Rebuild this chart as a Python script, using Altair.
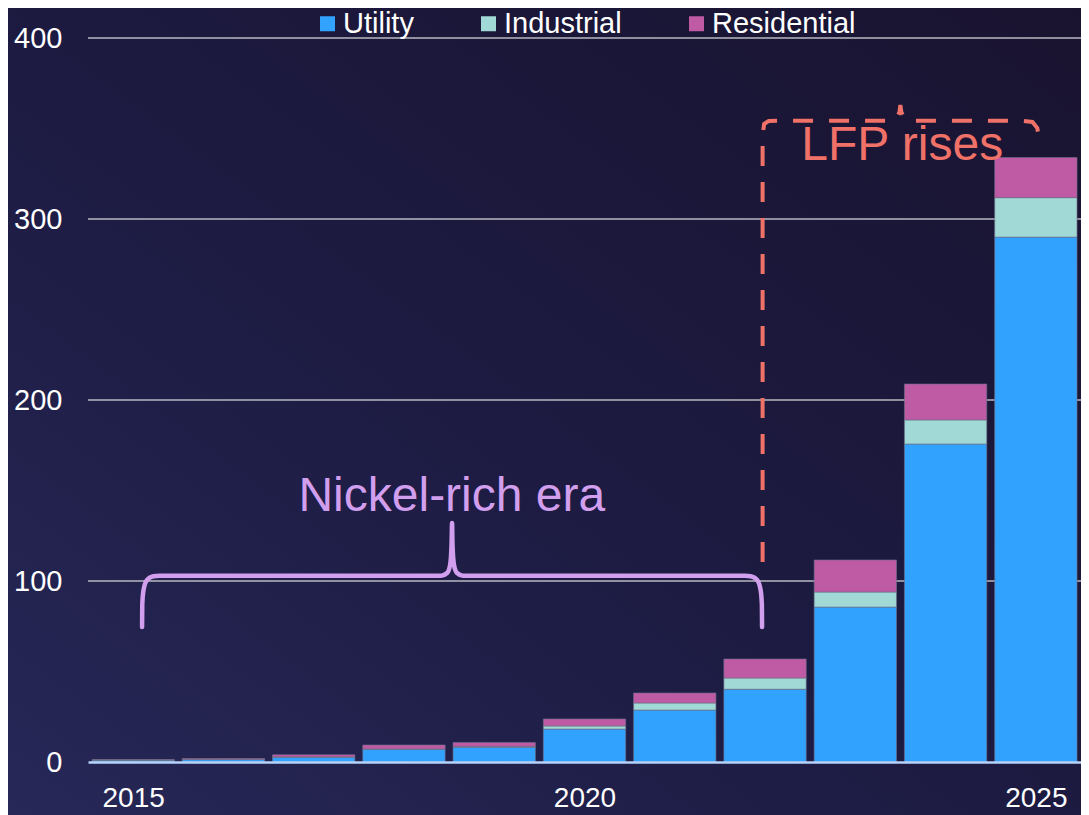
import altair as alt
import pandas as pd

# ---------------- data ----------------
years = list(range(2015, 2026))
utility = [1.0, 1.3, 2.6, 7.0, 8.1, 18.2, 28.7, 40.2, 85.6, 175.7, 290.0]
industrial = [0.1, 0.2, 0.2, 0.2, 0.5, 1.7, 3.9, 6.2, 8.3, 13.3, 21.8]
residential = [0.2, 0.4, 1.2, 2.2, 2.2, 3.9, 5.5, 10.5, 17.7, 19.8, 22.2]

series_names = ["Utility", "Industrial", "Residential"]
series_colors = ["#31a3ff", "#a1d9d6", "#bf5aa5"]

y_ticks = [0, 100, 200, 300, 400]
grid_values = [100, 200, 300, 400]
x_ticks = [2015, 2020, 2025]

# annotation: curly brace "Nickel-rich era"
nickel_x = [2015.099, 2015.101, 2015.115, 2015.154, 2015.214, 2015.291, 2018.412,
            2018.478, 2018.511, 2018.527, 2018.533, 2018.538, 2018.555, 2018.588,
            2018.654, 2021.775, 2021.852, 2021.912, 2021.951, 2021.965, 2021.967]
nickel_y = [74.6, 86.7, 95.0, 100.6, 102.5, 102.9, 102.9, 104.4, 108.8, 119.9, 132.0,
            119.9, 108.8, 104.4, 102.9, 102.9, 102.5, 100.6, 95.0, 86.7, 74.6]

# annotation: dashed bracket "LFP rises"
lfp_x = [2021.973, 2021.973, 2021.990, 2022.040, 2022.159, 2023.401, 2023.456,
         2023.489, 2023.499, 2023.510, 2023.543, 2023.599, 2024.852, 2024.962,
         2025.016, 2025.038]
lfp_y = [110.5, 346.4, 352.5, 354.2, 354.3, 354.3, 355.8, 359.1, 363.0, 359.1,
         355.8, 354.3, 354.3, 353.6, 350.3, 342.5]

label_texts = ["Nickel-rich era", "LFP rises"]
label_x = [2018.53, 2023.52]
label_y = [138.7, 332.6]
label_colors = ["#d29fee", "#f07168"]

# ---------------- tables ----------------
rows = []
for i, yr in enumerate(years):
    base = 0.0
    for k, (name, vals) in enumerate(zip(series_names, [utility, industrial, residential])):
        rows.append({"year": yr, "series": name, "y0": base, "y1": base + vals[i], "order": k})
        base += vals[i]
bars_df = pd.DataFrame(rows)

nickel_df = pd.DataFrame({"x": nickel_x, "y": nickel_y, "i": range(len(nickel_x))})
lfp_df = pd.DataFrame({"x": lfp_x, "y": lfp_y, "i": range(len(lfp_x))})
labels_df = pd.DataFrame({"x": label_x, "y": label_y, "t": label_texts, "c": label_colors})

W, H = 993, 724
FONT = "Liberation Sans"

x_scale = alt.Scale(domain=[2014.5, 2025.5], nice=False, zero=False)
y_scale = alt.Scale(domain=[0, 400], nice=False, zero=True)

x_axis = alt.Axis(values=x_ticks, format="d", title=None, grid=False, ticks=False,
                  domainColor="#b5d3fb", domainWidth=2.5, labelColor="white",
                  labelFontSize=28, labelFont=FONT, labelPadding=22, zindex=1,
                  labelFlush=False, labelOverlap=False)
y_axis = alt.Axis(values=y_ticks, title=None, grid=False, ticks=False, domain=False,
                  labelColor="white", labelFontSize=29, labelFont=FONT,
                  labelPadding=26, zindex=1)

bg = alt.Chart(pd.DataFrame({"a": [0]})).mark_rect(
    fill=alt.LinearGradient(
        gradient="linear", x1=1, y1=0, x2=0, y2=1,
        stops=[alt.GradientStop(color="#19132f", offset=0),
               alt.GradientStop(color="#1d1b42", offset=0.55),
               alt.GradientStop(color="#272858", offset=1)]),
).encode(x=alt.value(-90), x2=alt.value(W + 20), y=alt.value(-40), y2=alt.value(H + 60))

grid = alt.Chart(pd.DataFrame({"v": grid_values})).mark_rule(
    color="#b9b9c2", strokeWidth=1.5
).encode(y=alt.Y("v:Q", scale=y_scale, axis=y_axis))

bars = alt.Chart(bars_df).transform_calculate(
    xa="datum.year - 0.456", xb="datum.year + 0.456"
).mark_bar(stroke="#6e6e88", strokeWidth=0.8, strokeOpacity=0.8).encode(
    x=alt.X("xa:Q", scale=x_scale, axis=x_axis),
    x2="xb:Q",
    y=alt.Y("y0:Q", scale=y_scale, axis=y_axis),
    y2="y1:Q",
    color=alt.Color(
        "series:N",
        scale=alt.Scale(domain=series_names, range=series_colors),
        legend=alt.Legend(orient="none", legendX=225, legendY=-29, direction="horizontal",
                          title=None, labelFontSize=29, labelFont=FONT, labelColor="white",
                          symbolType="square", symbolSize=225, symbolStrokeWidth=0,
                          symbolOpacity=1, labelOffset=1, columnPadding=60, padding=0,
                          zindex=1),
    ),
)

nickel = alt.Chart(nickel_df).mark_line(
    color="#d29fee", strokeWidth=4.5, interpolate="monotone", strokeCap="round"
).encode(
    x=alt.X("x:Q", scale=x_scale, axis=x_axis),
    y=alt.Y("y:Q", scale=y_scale, axis=y_axis),
    order="i:Q",
)

lfp = alt.Chart(lfp_df).mark_line(
    color="#f07168", strokeWidth=4, strokeDash=[20, 16], interpolate="linear"
).encode(
    x=alt.X("x:Q", scale=x_scale, axis=x_axis),
    y=alt.Y("y:Q", scale=y_scale, axis=y_axis),
    order="i:Q",
)

texts = alt.Chart(labels_df).mark_text(
    font=FONT, fontSize=48, align="center", baseline="alphabetic"
).encode(
    x=alt.X("x:Q", scale=x_scale, axis=x_axis),
    y=alt.Y("y:Q", scale=y_scale, axis=y_axis),
    text="t:N",
    color=alt.Color("c:N", scale=None),
)

chart = alt.layer(bg, grid, bars, nickel, lfp, texts).properties(
    width=W, height=H,
    autosize=alt.AutoSizeParams(type="none"),
    padding={"left": 80, "top": 30, "right": 0, "bottom": 53},
    background="#1b1738",
).configure_view(stroke=None)

chart.save("out.html", embed_options={"renderer": "svg", "actions": False})
